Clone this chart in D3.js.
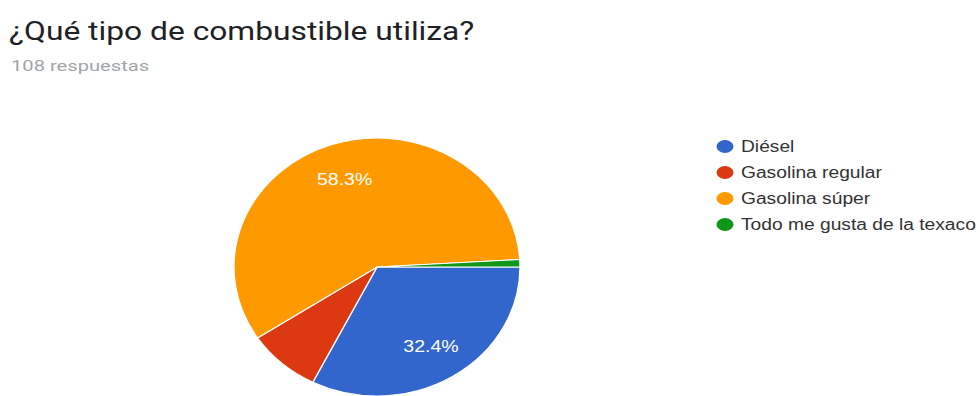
<!DOCTYPE html>
<html>
<head>
<meta charset="utf-8">
<script src="https://cdn.jsdelivr.net/npm/d3@7"></script>
<style>
html,body{margin:0;padding:0;background:#fff;}
svg{display:block;}
</style>
</head>
<body>
<svg id="chart" width="980" height="396"></svg>
<script>
const title = "¿Qué tipo de combustible utiliza?";
const subtitle = "108 respuestas";
const categories = ["Diésel", "Gasolina regular", "Gasolina súper", "Todo me gusta de la texaco"];
const counts = [35, 9, 63, 1];
const colors = ["#3366cc", "#dc3912", "#ff9900", "#109618"];

const svg = d3.select("#chart");

// horizontal stretch seen in the reference screenshot
function stretchText(sel, factor) {
  sel.each(function () {
    const w = this.getComputedTextLength();
    d3.select(this).attr("textLength", w * factor).attr("lengthAdjust", "spacingAndGlyphs");
  });
}

svg.append("text").attr("x", 9).attr("y", 40)
  .attr("font-family", "Roboto, sans-serif").attr("font-size", 25)
  .attr("fill", "#202124").text(title)
  .call(stretchText, 1.27);
svg.append("text").attr("x", 11).attr("y", 71)
  .attr("font-family", "Roboto, sans-serif").attr("font-size", 15.5)
  .attr("fill", "#a0a4a8").text(subtitle)
  .call(stretchText, 1.3);

const cx = 377, cy = 267, r = 129, sx = 143 / 129;
const total = d3.sum(counts);
const pie = d3.pie().sort(null).value(d => d)
  .startAngle(Math.PI / 2).endAngle(Math.PI / 2 + 2 * Math.PI);
const arcs = pie(counts);
const arc = d3.arc().innerRadius(0).outerRadius(r);

const g = svg.append("g").attr("transform", `translate(${cx},${cy}) scale(${sx},1)`);
g.selectAll("path").data(arcs).join("path")
  .attr("d", arc)
  .attr("fill", (d, i) => colors[i])
  .attr("stroke", "#fff").attr("stroke-width", 1.2);

const labelArc = d3.arc().innerRadius(r * 0.72).outerRadius(r * 0.72);
const fmt = d3.format(".1f");
svg.append("g").attr("transform", `translate(${cx},${cy})`)
  .selectAll("text").data(arcs.filter(d => d.value / total > 0.1)).join("text")
  .attr("x", d => labelArc.centroid(d)[0] * sx)
  .attr("y", d => labelArc.centroid(d)[1])
  .attr("dy", "0.36em")
  .attr("text-anchor", "middle")
  .attr("font-family", "Liberation Sans, Arial, sans-serif")
  .attr("font-size", 16)
  .attr("fill", "#fff")
  .text(d => fmt(d.value / total * 100) + "%")
  .call(stretchText, 1.22);

const lg = svg.append("g");
const items = lg.selectAll("g").data(categories).join("g")
  .attr("transform", (d, i) => `translate(725,${146.5 + i * 26})`);
items.append("ellipse").attr("rx", 8.5).attr("ry", 6.5).attr("fill", (d, i) => colors[i]);
items.append("text").attr("x", 16).attr("dy", "0.36em")
  .attr("font-family", "Liberation Sans, Arial, sans-serif")
  .attr("font-size", 16).attr("fill", "#333")
  .text(d => d)
  .call(stretchText, 1.2);
</script>
</body>
</html>
